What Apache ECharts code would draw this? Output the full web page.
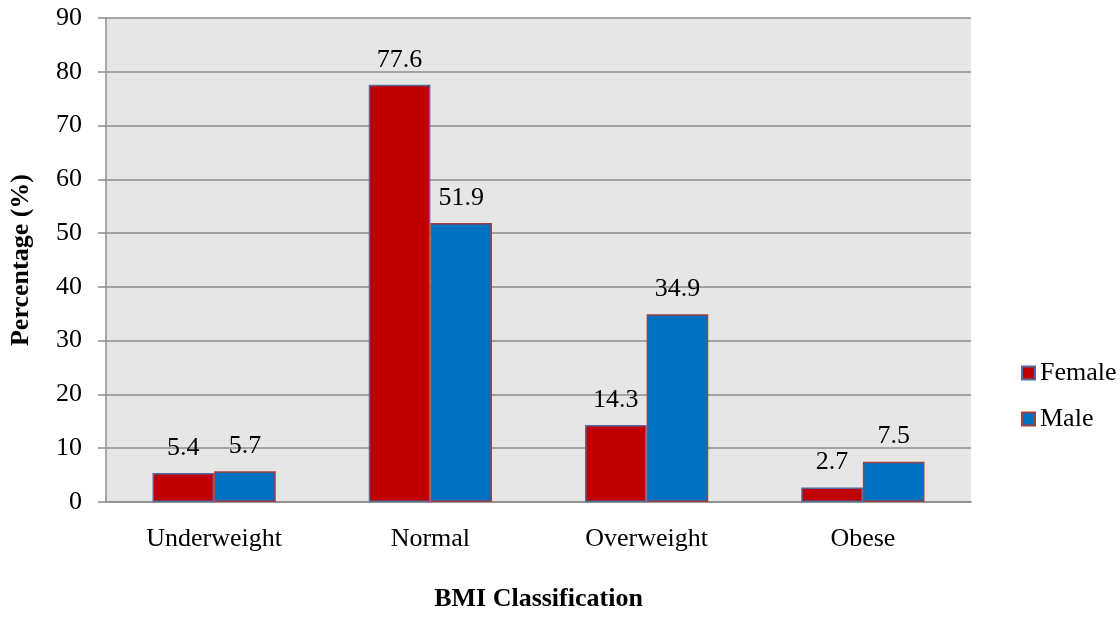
<!DOCTYPE html>
<html>
<head>
<meta charset="utf-8">
<title>BMI Classification by Gender</title>
<script src="https://cdn.jsdelivr.net/npm/echarts@6/dist/echarts.min.js"></script>
<style>
  html, body { margin: 0; padding: 0; background: #ffffff; }
  #chart { width: 1120px; height: 617px; }
</style>
</head>
<body>
<div id="chart"></div>
<script>
// BMI classes on the x axis
const categories = ['Underweight', 'Normal', 'Overweight', 'Obese'];
// Share of each class, in percent
const femaleValues = [5.4, 77.6, 14.3, 2.7];
const maleValues = [5.7, 51.9, 34.9, 7.5];
// Value axis range
const yMin = 0;
const yMax = 90;
const yStep = 10;

const serif = "'Liberation Serif', 'Times New Roman', serif";
const gridColor = '#8c8c8c';

const chart = echarts.init(document.getElementById('chart'), null, { renderer: 'canvas' });

const valueLabel = {
  show: true,
  position: 'top',
  distance: 12,
  fontFamily: serif,
  fontSize: 26,
  color: '#000000',
  formatter: p => p.value.toFixed(1)
};

chart.setOption({
  animation: false,
  backgroundColor: '#ffffff',
  textStyle: { fontFamily: serif },
  grid: {
    left: 105,
    right: 149,
    top: 18,
    bottom: 104,
    show: true,
    backgroundColor: '#e6e6e6',
    borderWidth: 0
  },
  legend: {
    orient: 'vertical',
    left: 1016,
    top: 355,
    itemWidth: 13,
    itemHeight: 13,
    itemGap: 20,
    icon: 'rect',
    textStyle: { fontFamily: serif, fontSize: 26, color: '#000000', padding: [0, 0, 0, 0] },
    data: ['Female', 'Male']
  },
  xAxis: {
    type: 'category',
    data: categories,
    name: 'BMI Classification',
    nameLocation: 'middle',
    nameGap: 84,
    nameTextStyle: { fontFamily: serif, fontSize: 26, fontWeight: 'bold', color: '#000000' },
    axisLine: { lineStyle: { color: gridColor, width: 1.5 } },
    axisTick: { show: false },
    axisLabel: { margin: 24, fontFamily: serif, fontSize: 26, color: '#000000' }
  },
  yAxis: {
    type: 'value',
    min: yMin,
    max: yMax,
    interval: yStep,
    name: 'Percentage (%)',
    nameLocation: 'middle',
    nameGap: 72,
    nameTextStyle: { fontFamily: serif, fontSize: 26, fontWeight: 'bold', color: '#000000' },
    axisLine: { show: true, lineStyle: { color: gridColor, width: 1.5 } },
    axisTick: { show: true, inside: false, length: 8, lineStyle: { color: gridColor, width: 1.5 } },
    axisLabel: { margin: 24, fontFamily: serif, fontSize: 26, color: '#000000' },
    splitLine: { show: true, lineStyle: { color: gridColor, width: 1.5 } }
  },
  series: [
    {
      name: 'Female',
      type: 'bar',
      data: femaleValues,
      barGap: '0%',
      barCategoryGap: '43%',
      itemStyle: { color: '#c00000', borderColor: '#4f6d9c', borderWidth: 1.5 },
      label: valueLabel
    },
    {
      name: 'Male',
      type: 'bar',
      data: maleValues,
      barGap: '0%',
      barCategoryGap: '43%',
      itemStyle: { color: '#0070c0', borderColor: '#a0403f', borderWidth: 1.5 },
      label: valueLabel
    }
  ]
});
</script>
</body>
</html>
